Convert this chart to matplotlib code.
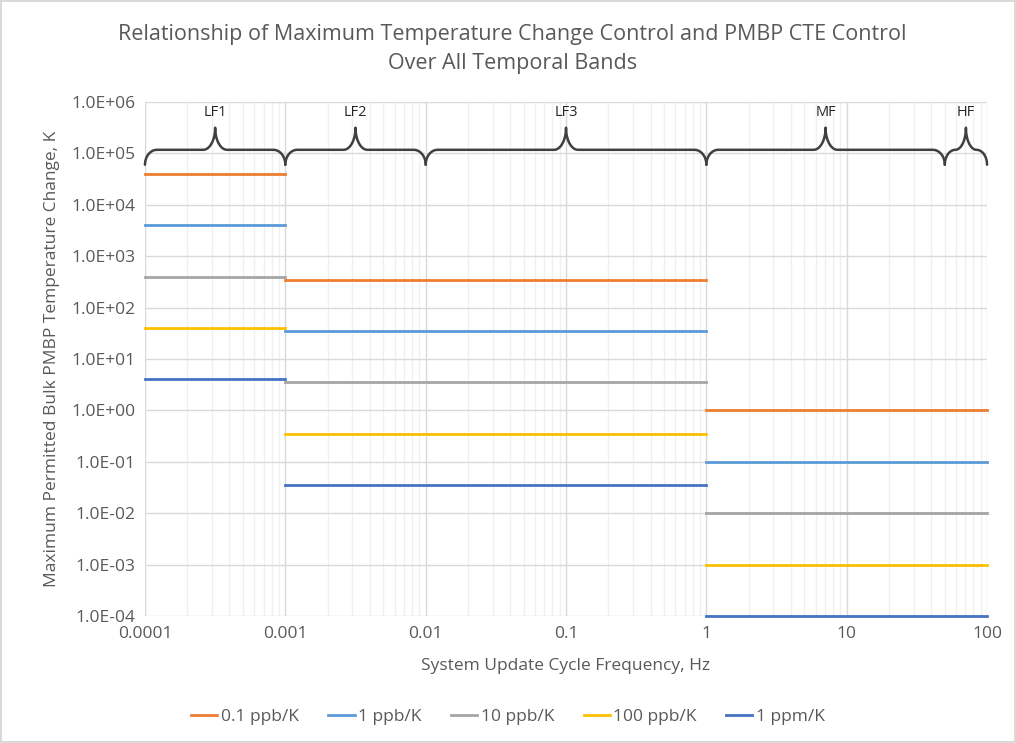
import matplotlib.pyplot as plt
import numpy as np

# Band boundaries along the frequency axis, Hz
BAND_EDGES = [1e-4, 1e-3, 1, 100]

SERIES = ['0.1 ppb/K', '1 ppb/K', '10 ppb/K', '100 ppb/K', '1 ppm/K']
# permitted temperature change in each band, K
VALUES = {
    '0.1 ppb/K': [4.0e4, 3.5e2, 1.0e0],
    '1 ppb/K':   [4.0e3, 3.5e1, 1.0e-1],
    '10 ppb/K':  [4.0e2, 3.5e0, 1.0e-2],
    '100 ppb/K': [4.0e1, 3.5e-1, 1.0e-3],
    '1 ppm/K':   [4.0e0, 3.5e-2, 1.0e-4],
}
COLOURS = ['#ED7D31', '#5B9BD5', '#A5A5A5', '#FFC000', '#4472C4']

# temporal band braces along the top
BANDS = ['LF1', 'LF2', 'LF3', 'MF', 'HF']
BAND_SPANS = [(1e-4, 1e-3), (1e-3, 1e-2), (1e-2, 1), (1, 50), (50, 100)]

XTICKS = [1e-4, 1e-3, 1e-2, 1e-1, 1, 10, 100]
XTICK_LABELS = ['0.0001', '0.001', '0.01', '0.1', '1', '10', '100']
YEXPONENTS = list(range(-4, 7))

TEXT_COLOUR = '#595959'
plt.rcParams['font.family'] = ['Open Sans', 'DejaVu Sans']


def brace(ax, x0, x1, ybase, label):
    # curly brace drawn in log space so the curves keep their shape
    u0, u1 = np.log10(x0), np.log10(x1)
    um = (u0 + u1) / 2
    half = (u1 - u0) / 2
    w = min(0.085, half / 2)
    d, p = 0.29, 0.43
    t = np.linspace(0, np.pi / 2, 20)
    yb = ybase - d
    left_tip_u = u0 + w - w * np.cos(t)
    left_tip_v = yb + d * np.sin(t)
    mid_u = um - w + w * np.sin(t)
    mid_v = ybase + p - p * np.cos(t)
    u = np.concatenate([left_tip_u, mid_u])
    v = np.concatenate([left_tip_v, mid_v])
    u = np.concatenate([u, (2 * um - u)[::-1]])
    v = np.concatenate([v, v[::-1]])
    ax.plot(10 ** u, 10 ** v, color='#404040', lw=1.8, solid_capstyle='round',
            clip_on=False, zorder=4)
    ax.text(10 ** um, 10 ** (ybase + p + 0.15), label, ha='center', va='bottom',
            fontsize=10.5, color='#262626')


fig = plt.figure(figsize=(10.16, 7.43), dpi=100)
fig.patch.set_edgecolor('#D9D9D9')
fig.patch.set_linewidth(1.5)
ax = fig.add_axes([0.1427, 0.171, 0.8288, 0.6917])

for name, colour in zip(SERIES, COLOURS):
    vals = VALUES[name]
    for i, val in enumerate(vals):
        ax.plot([BAND_EDGES[i], BAND_EDGES[i + 1]], [val, val], color=colour, lw=2,
                label=name if i == 0 else None, zorder=3, clip_on=False)

ax.set_xscale('log')
ax.set_yscale('log')
ax.set_xlim(1e-4, 100)
ax.set_ylim(1e-4, 1e6)

ax.set_xticks(XTICKS)
ax.set_xticklabels(XTICK_LABELS)
ax.set_yticks([10.0 ** k for k in YEXPONENTS])
ax.set_yticklabels(['1.0E%s%02d' % ('+' if k >= 0 else '-', abs(k)) for k in YEXPONENTS])
ax.yaxis.set_minor_locator(plt.NullLocator())

ax.grid(True, which='major', color='#D9D9D9', lw=1, zorder=0)
ax.grid(True, which='minor', axis='x', color='#F0F0F0', lw=1, zorder=0)
ax.set_axisbelow(True)
for s in ax.spines.values():
    s.set_visible(False)
ax.tick_params(which='both', length=0, labelsize=12.5, colors=TEXT_COLOUR, pad=7)

for label, (x0, x1) in zip(BANDS, BAND_SPANS):
    brace(ax, x0, x1, 5.07, label)

ax.set_xlabel('System Update Cycle Frequency, Hz', fontsize=12.5, color=TEXT_COLOUR, labelpad=12)
ax.set_ylabel('Maximum Permitted Bulk PMBP Temperature Change, K', fontsize=12.5,
              color=TEXT_COLOUR, labelpad=8)
fig.text(0.504, 0.934, 'Relationship of Maximum Temperature Change Control and PMBP CTE Control\nOver All Temporal Bands',
         ha='center', va='center', fontsize=15.5, color=TEXT_COLOUR, linespacing=1.45)

fig.legend(loc='center', bbox_to_anchor=(0.5, 0.035), ncol=5, frameon=False,
           fontsize=12.5, handlelength=1.5, handletextpad=0.2, columnspacing=1.7,
           labelcolor=TEXT_COLOUR)

fig.savefig('out.png', dpi=100)
